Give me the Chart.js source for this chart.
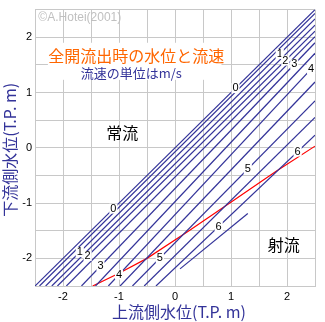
<!DOCTYPE html>
<html>
<head>
<meta charset="utf-8">
<script src="https://cdn.jsdelivr.net/npm/chart.js@4"></script>
<style>
  body { margin: 0; background: #fff; }
  canvas { display: block; }
</style>
</head>
<body>
<canvas id="levelChart" width="325" height="322"></canvas>
<script>
// velocity contours (m/s): each line runs from the bottom edge to the right edge
const speeds = [0, 0.5, 1, 1.5, 2, 2.5, 3, 3.5, 4, 4.5, 5, 5.5, 6];
const bottomX = [-2.5, -2.42, -2.31, -2.2, -2.1, -1.94, -1.67, -1.42, -1.19, -0.98, -0.76, -0.55, -0.34];
const rightY = [2.5, 2.43, 2.33, 2.22, 2.11, 2.01, 1.9, 1.71, 1.5, 1.19, 0.85, 0.55, 0.23];

// short contour in the supercritical zone
const extraX = [0.09, 1.3];
const extraY = [-2.19, -1.19];

// boundary between subcritical and supercritical flow
const criticalX = [-1.47, -1.0, -0.5, 0.25, 1.05, 1.8, 2.5];
const criticalY = [-2.5, -2.27, -2.0, -1.5, -0.95, -0.43, 0.03];

// where the speed numbers sit along their lines
const labelSpeeds = [0, 1, 2, 3, 4, 5, 6];
const lowerLabelX = [-1.1, -1.7, -1.56, -1.33, -1.0, -0.27, 0.78];
const upperLabelX = [1.08, 1.87, 1.97, 2.13, 2.43, 1.3, 2.19];

const axisMin = -2.5;
const axisMax = 2.5;

const lineColor = "#333399";
const jpFont = '"Noto Sans CJK JP", sans-serif';
const numFont = '"Liberation Sans", Arial, sans-serif';

const datasets = speeds.map((v, i) => ({
  label: v + " m/s",
  data: [
    { x: bottomX[i], y: axisMin },
    { x: axisMax, y: rightY[i] },
  ],
  borderColor: lineColor,
  borderWidth: 1.2,
  pointRadius: 0,
  tension: 0,
}));

datasets.push({
  label: "extra",
  data: extraX.map((x, i) => ({ x: x, y: extraY[i] })),
  borderColor: lineColor,
  borderWidth: 1.2,
  pointRadius: 0,
  tension: 0,
});

datasets.push({
  label: "critical",
  data: criticalX.map((x, i) => ({ x: x, y: criticalY[i] })),
  borderColor: "#ff0000",
  borderWidth: 1.2,
  pointRadius: 0,
  tension: 0,
});

// y of speed line i at a given x
function lineYAt(i, x) {
  const x0 = bottomX[i], y0 = axisMin;
  const x1 = axisMax, y1 = rightY[i];
  return y0 + (y1 - y0) * (x - x0) / (x1 - x0);
}

const annotations = {
  id: "annotations",
  beforeDatasetsDraw(chart) {
    const { ctx, scales: { x, y } } = chart;
    ctx.save();
    // copyright
    ctx.font = "12px " + numFont;
    ctx.fillStyle = "#c0c0c0";
    ctx.textAlign = "left";
    ctx.textBaseline = "middle";
    ctx.fillText("©A.Hotei(2001)", x.getPixelForValue(-2.44), y.getPixelForValue(2.36));

    // title box
    const bx0 = x.getPixelForValue(-2.27), bx1 = x.getPixelForValue(0.83);
    const by0 = y.getPixelForValue(1.9), by1 = y.getPixelForValue(1.23);
    ctx.fillStyle = "#fff";
    ctx.fillRect(bx0, by0, bx1 - bx0, by1 - by0);

    ctx.textAlign = "center";
    ctx.font = "16px " + jpFont;
    ctx.fillStyle = "#ff6600";
    ctx.fillText("全開流出時の水位と流速", x.getPixelForValue(-0.69), y.getPixelForValue(1.67));
    ctx.font = "13px " + jpFont;
    ctx.fillStyle = lineColor;
    ctx.fillText("流速の単位はm/s", x.getPixelForValue(-0.78), y.getPixelForValue(1.35));

    // flow regime names
    ctx.font = "16px " + jpFont;
    ctx.fillStyle = "#000";
    ctx.fillText("常流", x.getPixelForValue(-0.94), y.getPixelForValue(0.27));
    ctx.fillText("射流", x.getPixelForValue(1.94), y.getPixelForValue(-1.76));
    ctx.restore();
  },
  afterDatasetsDraw(chart) {
    const { ctx, scales: { x, y } } = chart;
    ctx.save();
    ctx.font = "11px " + numFont;
    ctx.textAlign = "center";
    ctx.textBaseline = "middle";
    labelSpeeds.forEach((v, k) => {
      const i = speeds.indexOf(v);
      [lowerLabelX[k], upperLabelX[k]].forEach((lx) => {
        const px = x.getPixelForValue(lx);
        const py = y.getPixelForValue(lineYAt(i, lx));
        const w = ctx.measureText(String(v)).width + 2;
        ctx.fillStyle = "#fff";
        ctx.fillRect(px - w / 2, py - 5, w, 10);
        ctx.fillStyle = "#000";
        ctx.fillText(String(v), px, py);
      });
    });
    ctx.restore();
  },
  afterDraw(chart) {
    const { ctx, chartArea } = chart;
    ctx.save();
    ctx.font = "16px " + jpFont;
    ctx.fillStyle = lineColor;
    ctx.textAlign = "center";
    ctx.textBaseline = "middle";
    ctx.fillText("上流側水位(T.P. m)", (chartArea.left + chartArea.right) / 2 + 4, 312);
    ctx.translate(10, (chartArea.top + chartArea.bottom) / 2 + 2);
    ctx.rotate(-Math.PI / 2);
    ctx.fillText("下流側水位(T.P. m)", 0, 0);
    ctx.restore();
  },
};

const tickLabel = (v) => (Number.isInteger(v) ? String(v) : "");

const ctx = document.getElementById("levelChart").getContext("2d");
new Chart(ctx, {
  type: "line",
  data: { datasets: datasets },
  options: {
    responsive: false,
    animation: false,
    layout: { padding: { top: 5, right: 10, left: 0, bottom: 0 } },
    plugins: {
      legend: { display: false },
      tooltip: { enabled: false },
    },
    scales: {
      x: {
        type: "linear",
        min: axisMin,
        max: axisMax,
        ticks: {
          stepSize: 0.5,
          autoSkip: false,
          maxRotation: 0,
          padding: 4,
          color: "#000",
          font: { family: numFont, size: 11 },
          callback: tickLabel,
        },
        grid: { color: "#c8c8c8", drawTicks: false },
        border: { color: "#c8c8c8" },
        afterFit: (scale) => { scale.height = 36; },
      },
      y: {
        type: "linear",
        min: axisMin,
        max: axisMax,
        ticks: {
          stepSize: 0.5,
          autoSkip: false,
          padding: 3,
          color: "#000",
          font: { family: numFont, size: 11 },
          callback: tickLabel,
        },
        grid: { color: "#c8c8c8", drawTicks: false },
        border: { color: "#c8c8c8" },
        afterFit: (scale) => { scale.width = 35; },
      },
    },
  },
  plugins: [annotations],
});
</script>
</body>
</html>
